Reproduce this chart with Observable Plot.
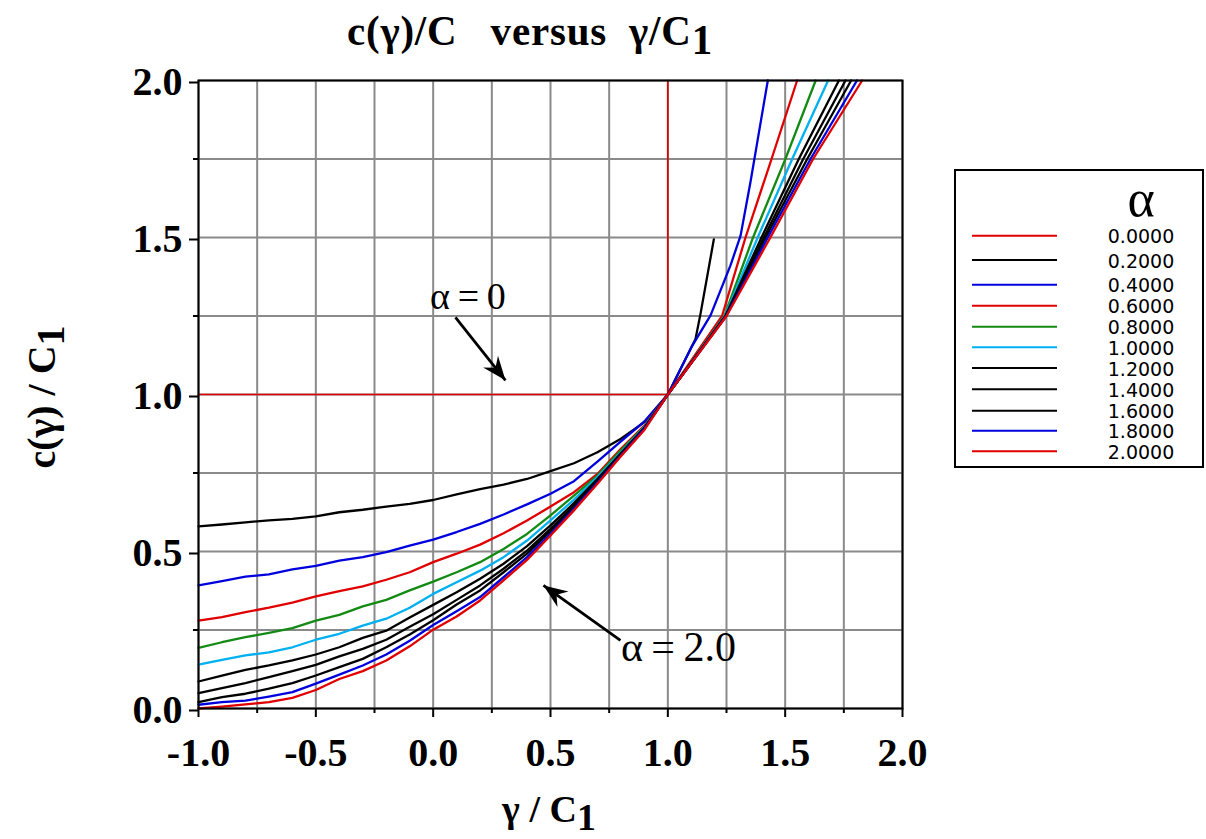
<!DOCTYPE html>
<html>
<head>
<meta charset="utf-8">
<script src="https://cdn.jsdelivr.net/npm/d3@7"></script>
<script src="https://cdn.jsdelivr.net/npm/@observablehq/plot@0.6"></script>
<style>
  html, body { margin: 0; padding: 0; background: #fff; }
  #wrap { position: relative; width: 1206px; height: 839px; overflow: hidden; background: #fff; }
  #wrap > svg { position: absolute; left: 0; top: 0; }
  .lbl { position: absolute; white-space: nowrap; line-height: 1; color: #000;
         font-family: "Liberation Serif", "Times New Roman", serif; font-weight: bold; }
  .sub { position: relative; top: 0.22em; }
</style>
</head>
<body>
<div id="wrap"></div>
<script>
// ---------- data ----------
const alphas = [0.0, 0.2, 0.4, 0.6, 0.8, 1.0, 1.2, 1.4, 1.6, 1.8, 2.0];
const alphaColors = ["#e00000", "#000000", "#0000dd", "#e00000", "#138a13", "#00b0f0",
                     "#000000", "#000000", "#000000", "#0000dd", "#e00000"];

// gamma / C1 sampling for the branch gamma <= C1
const gamma = [-1.0, -0.9, -0.8, -0.7, -0.6, -0.5, -0.4, -0.3, -0.2, -0.1, 0.0,
                0.1, 0.2, 0.3, 0.4, 0.5, 0.6, 0.7, 0.8, 0.9, 1.0];

// alpha = 0 : c = C1 for gamma < C1, vertical at gamma = C1
const gamma00 = [-1.0, 1.0, 1.0];
const c00 = [1.0, 1.0, 2.0];

const c02 = [0.580,0.586,0.593,0.599,0.604,0.612,0.625,0.633,0.643,0.652,0.664,0.682,0.699,0.713,0.731,0.756,0.781,0.816,0.859,0.912,1.0];
const c04 = [0.392,0.406,0.420,0.427,0.443,0.454,0.471,0.482,0.498,0.519,0.538,0.562,0.588,0.618,0.650,0.684,0.724,0.786,0.851,0.914,1.0];
const c06 = [0.280,0.291,0.307,0.321,0.337,0.357,0.374,0.389,0.410,0.434,0.466,0.493,0.522,0.558,0.599,0.643,0.689,0.747,0.827,0.901,1.0];
const c08 = [0.193,0.211,0.227,0.241,0.256,0.280,0.298,0.325,0.346,0.376,0.404,0.434,0.466,0.508,0.556,0.615,0.678,0.742,0.822,0.898,1.0];
const c10 = [0.140,0.155,0.169,0.179,0.195,0.219,0.238,0.264,0.286,0.321,0.365,0.402,0.439,0.482,0.535,0.599,0.665,0.737,0.816,0.896,1.0];
const c12 = [0.086,0.105,0.123,0.137,0.153,0.172,0.195,0.225,0.248,0.290,0.330,0.370,0.413,0.461,0.517,0.583,0.654,0.731,0.813,0.894,1.0];
const c14 = [0.049,0.065,0.081,0.100,0.119,0.139,0.166,0.190,0.219,0.260,0.300,0.346,0.392,0.445,0.503,0.572,0.646,0.726,0.811,0.893,1.0];
const c16 = [0.020,0.036,0.047,0.063,0.081,0.105,0.132,0.158,0.195,0.236,0.281,0.331,0.376,0.434,0.493,0.565,0.641,0.723,0.809,0.892,1.0];
const c18 = [0.012,0.020,0.025,0.038,0.052,0.079,0.108,0.137,0.172,0.216,0.266,0.310,0.355,0.418,0.482,0.556,0.636,0.720,0.806,0.891,1.0];
const c20 = [0.000,0.006,0.013,0.020,0.034,0.059,0.094,0.119,0.153,0.198,0.251,0.293,0.344,0.408,0.473,0.551,0.631,0.716,0.803,0.887,1.0];

// branch gamma > C1 (values of gamma/C1 at given c/C1)
const gUp02 = [1.06, 1.118, 1.14, 1.196];
const cUp02 = [1.09, 1.177, 1.26, 1.494];
const gUp04 = [1.10, 1.182, 1.267, 1.310, 1.352, 1.381, 1.426];
const cUp04 = [1.15, 1.252, 1.411, 1.506, 1.676, 1.803, 2.0];
const cUp   = [1.25, 1.5, 1.75, 2.0];
const gUp06 = [1.231, 1.331, 1.442, 1.551];
const gUp08 = [1.241, 1.363, 1.501, 1.630];
const gUp10 = [1.243, 1.383, 1.530, 1.683];
const gUp12 = [1.245, 1.399, 1.558, 1.729];
const gUp14 = [1.247, 1.409, 1.577, 1.757];
const gUp16 = [1.248, 1.417, 1.594, 1.781];
const gUp18 = [1.249, 1.426, 1.608, 1.806];
const gUp20 = [1.250, 1.437, 1.619, 1.828];

// axis ticks
const xMajor = [-1.0, -0.5, 0.0, 0.5, 1.0, 1.5, 2.0];
const xMinor = [-0.75, -0.25, 0.25, 0.75, 1.25, 1.75];
const yMajor = [0.0, 0.5, 1.0, 1.5, 2.0];
const yMinor = [0.25, 0.75, 1.25, 1.75];
const xGrid = [-1.0, -0.75, -0.5, -0.25, 0.0, 0.25, 0.5, 0.75, 1.0, 1.25, 1.5, 1.75, 2.0];
const yGrid = [0.0, 0.25, 0.5, 0.75, 1.0, 1.25, 1.5, 1.75, 2.0];

// annotations (data units)
const noteText = ["α\u2009=\u20090", "α\u2009=\u20092.0"];
const noteX = [0.148, 1.045];
const noteY = [1.31, 0.193];
const arrowX1 = [0.095, 0.798];
const arrowY1 = [1.246, 0.217];
const arrowX2 = [0.308, 0.470];
const arrowY2 = [1.045, 0.392];

// ---------- build series ----------
function pts(gs, cs) { return gs.map((g, i) => ({g, c: cs[i]})); }
const seriesPts = [
  pts(gamma00, c00),
  pts(gamma.concat(gUp02), c02.concat(cUp02)),
  pts(gamma.concat(gUp04), c04.concat(cUp04)),
  pts(gamma.concat(gUp06), c06.concat(cUp)),
  pts(gamma.concat(gUp08), c08.concat(cUp)),
  pts(gamma.concat(gUp10), c10.concat(cUp)),
  pts(gamma.concat(gUp12), c12.concat(cUp)),
  pts(gamma.concat(gUp14), c14.concat(cUp)),
  pts(gamma.concat(gUp16), c16.concat(cUp)),
  pts(gamma.concat(gUp18), c18.concat(cUp)),
  pts(gamma.concat(gUp20), c20.concat(cUp))
];

const notes = noteText.map((t, i) => ({t, x: noteX[i], y: noteY[i]}));
const arrows = arrowX1.map((x1, i) => ({x1, y1: arrowY1[i], x2: arrowX2[i], y2: arrowY2[i]}));

const SERIF = "Liberation Serif, Times New Roman, serif";
const fmt1 = d => d.toFixed(1);

const chart = Plot.plot({
  width: 1206,
  height: 839,
  marginLeft: 198,
  marginRight: 304,
  marginTop: 80,
  marginBottom: 131,
  style: {background: "transparent", fontFamily: SERIF, color: "#000"},
  x: {domain: [-1, 2]},
  y: {domain: [0, 2]},
  marks: [
    Plot.gridX(xGrid, {stroke: "#8a8a8a", strokeOpacity: 1, strokeWidth: 2}),
    Plot.gridY(yGrid, {stroke: "#8a8a8a", strokeOpacity: 1, strokeWidth: 2}),
    ...seriesPts.map((p, i) => Plot.line(p, {
      x: "g", y: "c", stroke: alphaColors[i], strokeWidth: i === 0 ? 1.7 : 2.3, curve: "linear"
    })),
    Plot.frame({stroke: "#000", strokeWidth: 2}),
    Plot.axisX(xMajor, {tickSize: 9, tickPadding: 20, tickFormat: fmt1, fontSize: 40,
      fontWeight: "bold", fontFamily: SERIF, label: null, strokeWidth: 2}),
    Plot.axisX(xMinor, {tickSize: 5, tickFormat: () => "", label: null, strokeWidth: 2}),
    Plot.axisY(yMajor, {tickSize: 9, tickPadding: 7, tickFormat: fmt1, fontSize: 40,
      fontWeight: "bold", fontFamily: SERIF, label: null, strokeWidth: 2, dy: 2}),
    Plot.axisY(yMinor, {tickSize: 5, tickFormat: () => "", label: null, strokeWidth: 2}),
    Plot.link(arrows, {x1: "x1", y1: "y1", x2: "x2", y2: "y2", stroke: "#000", strokeWidth: 2.8}),
    Plot.text(notes.slice(0, 1), {x: "x", y: "y", text: "t", fontSize: 38, fontFamily: SERIF, fill: "#000"}),
    Plot.text(notes.slice(1), {x: "x", y: "y", text: "t", fontSize: 42, fontFamily: SERIF, fill: "#000"})
  ]
});

// filled arrowheads on the annotation links
const svgNS = "http://www.w3.org/2000/svg";
const defs = document.createElementNS(svgNS, "defs");
defs.innerHTML = '<marker id="ahead" viewBox="-26 -12 28 24" refX="0" refY="0" markerUnits="userSpaceOnUse" markerWidth="28" markerHeight="24" orient="auto"><path d="M0,0 L-24,-9.5 L-16,0 L-24,9.5 Z" fill="#000"/></marker>';
chart.insertBefore(defs, chart.firstChild);
chart.querySelectorAll('g[aria-label="link"] path').forEach(p => p.setAttribute("marker-end", "url(#ahead)"));

const wrap = document.getElementById("wrap");
wrap.appendChild(chart);

// ---------- title and axis titles ----------
function addLabel(html, style) {
  const d = document.createElement("div");
  d.className = "lbl";
  d.innerHTML = html;
  Object.assign(d.style, style);
  wrap.appendChild(d);
  return d;
}
addLabel('c(γ)/C&nbsp;&nbsp; versus &nbsp;γ/C<span class="sub">1</span>',
  {left: "530px", top: "9px", fontSize: "41px", transform: "translateX(-50%) scaleY(1.05)", transformOrigin: "50% 0", letterSpacing: "0.8px"});
addLabel('γ / C<span class="sub">1</span>',
  {left: "549px", top: "790px", fontSize: "38px", transform: "translateX(-50%)"});
addLabel('c(γ) / C<span class="sub">1</span>',
  {left: "42px", top: "397px", fontSize: "40px", transform: "translate(-50%,-50%) rotate(-90deg)"});

// ---------- legend ----------
const legendRowY = [66.7, 91, 115.7, 136.7, 157.7, 178.3, 199, 220.3, 241.7, 261.7, 282.3];
const leg = d3.create("svg")
  .attr("width", 250).attr("height", 300)
  .style("position", "absolute").style("left", "954px").style("top", "169px");
leg.append("rect").attr("x", 1).attr("y", 1).attr("width", 248).attr("height", 297)
  .attr("fill", "#fff").attr("stroke", "#000").attr("stroke-width", 2);
leg.append("text").attr("x", 187).attr("y", 47).attr("text-anchor", "middle")
  .attr("font-family", SERIF).attr("font-size", 52).text("α");
alphas.forEach((a, i) => {
  const y = legendRowY[i];
  leg.append("line").attr("x1", 18).attr("x2", 103).attr("y1", y).attr("y2", y)
    .attr("stroke", alphaColors[i]).attr("stroke-width", 2);
  leg.append("text").attr("x", 187).attr("y", y + 7.5).attr("text-anchor", "middle")
    .attr("font-family", "DejaVu Sans, Verdana, sans-serif").attr("font-size", 19)
    .attr("fill", "#000").text(a.toFixed(4));
});
wrap.appendChild(leg.node());
</script>
</body>
</html>
